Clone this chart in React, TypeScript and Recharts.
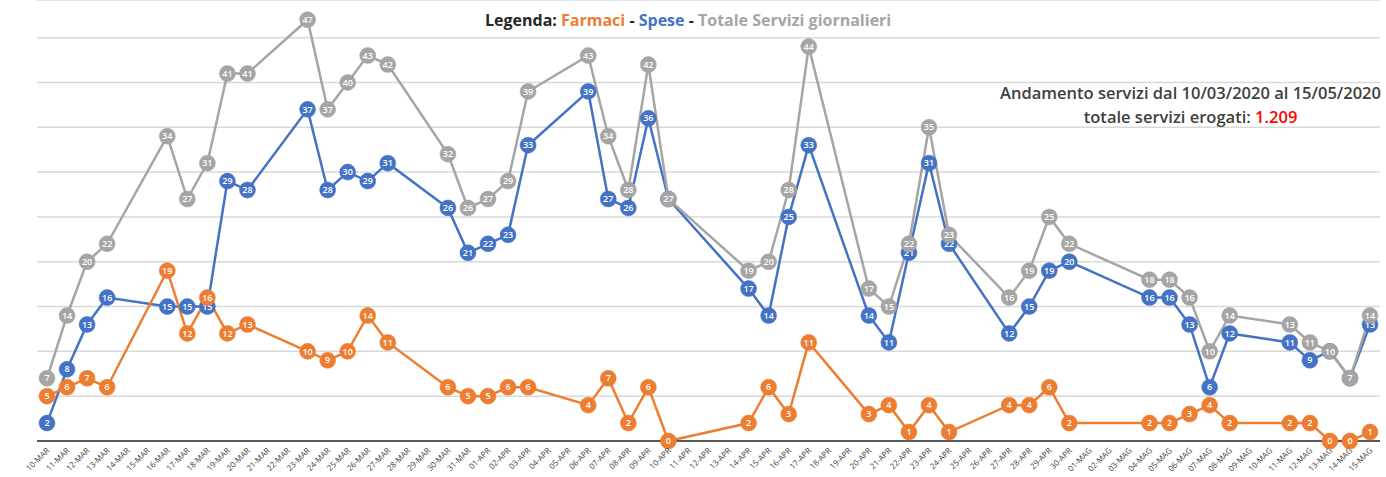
import React from 'react';
import { LineChart, Line, XAxis, YAxis, CartesianGrid } from 'recharts';

const categories = [
  '10-MAR','11-MAR','12-MAR','13-MAR','14-MAR','15-MAR','16-MAR','17-MAR','18-MAR','19-MAR','20-MAR',
  '21-MAR','22-MAR','23-MAR','24-MAR','25-MAR','26-MAR','27-MAR','28-MAR','29-MAR','30-MAR','31-MAR',
  '01-APR','02-APR','03-APR','04-APR','05-APR','06-APR','07-APR','08-APR','09-APR','10-APR',
  '11-APR','12-APR','13-APR','14-APR','15-APR','16-APR','17-APR','18-APR','19-APR','20-APR',
  '21-APR','22-APR','23-APR','24-APR','25-APR','26-APR','27-APR','28-APR','29-APR','30-APR',
  '01-MAG','02-MAG','03-MAG','04-MAG','05-MAG','06-MAG','07-MAG','08-MAG','09-MAG','10-MAG',
  '11-MAG','12-MAG','13-MAG','14-MAG','15-MAG',
];

const farmaci: (number | null)[] = [
  5, 6, 7, 6, null, null, 19, 12, 16, 12, 13,
  null, null, 10, 9, 10, 14, 11, null, null, 6, 5,
  5, 6, 6, null, null, 4, 7, 2, 6, 0,
  null, null, null, 2, 6, 3, 11, null, null, 3,
  4, 1, 4, 1, null, null, 4, 4, 6, 2,
  null, null, null, 2, 2, 3, 4, 2, null, null,
  2, 2, 0, 0, 1,
];

const spese: (number | null)[] = [
  2, 8, 13, 16, null, null, 15, 15, 15, 29, 28,
  null, null, 37, 28, 30, 29, 31, null, null, 26, 21,
  22, 23, 33, null, null, 39, 27, 26, 36, 27,
  null, null, null, 17, 14, 25, 33, null, null, 14,
  11, 21, 31, 22, null, null, 12, 15, 19, 20,
  null, null, null, 16, 16, 13, 6, 12, null, null,
  11, 9, 10, 7, 13,
];

const totale: (number | null)[] = [
  7, 14, 20, 22, null, null, 34, 27, 31, 41, 41,
  null, null, 47, 37, 40, 43, 42, null, null, 32, 26,
  27, 29, 39, null, null, 43, 34, 28, 42, 27,
  null, null, null, 19, 20, 28, 44, null, null, 17,
  15, 22, 35, 23, null, null, 16, 19, 25, 22,
  null, null, null, 18, 18, 16, 10, 14, null, null,
  13, 11, 10, 7, 14,
];

const yTicks = [0, 5, 10, 15, 20, 25, 30, 35, 40, 45];

const data = categories.map((c, i) => ({
  day: c,
  farmaci: farmaci[i],
  spese: spese[i],
  totale: totale[i],
}));

const FONT = '"Open Sans", "Noto Sans", sans-serif';

const makeDot = (color: string, key: string) => (props: any) => {
  const { cx, cy, index, payload } = props;
  const v = payload ? payload[key] : null;
  if (v === null || v === undefined || cx == null || cy == null || isNaN(cy)) {
    return <g key={`${key}-e-${index}`} />;
  }
  return (
    <g key={`${key}-d-${index}`}>
      <circle cx={cx} cy={cy} r={8} fill={color} stroke={color} strokeWidth={0.5} />
      <text
        x={cx}
        y={cy}
        dy="0.35em"
        textAnchor="middle"
        fill="#ffffff"
        fontSize={9}
        fontWeight={600}
        fontFamily={FONT}
      >
        {v}
      </text>
    </g>
  );
};

const XTick = (props: any) => {
  const { x, y, payload } = props;
  const tx = x + 3;
  const ty = y + 2;
  return (
    <text
      x={tx}
      y={ty}
      transform={`rotate(-45, ${tx}, ${ty})`}
      textAnchor="end"
      fontSize={8}
      fill="#404040"
      fontFamily={FONT}
    >
      {payload.value}
    </text>
  );
};

export default function App() {
  return (
    <div style={{ position: 'absolute', left: 0, top: 0, width: 1386, height: 477, background: '#fff' }}>
      <LineChart
        width={1386}
        height={477}
        data={data}
        margin={{ top: 0, right: 6, left: 37, bottom: 0 }}
      >
        <CartesianGrid vertical={false} stroke="#d9d9d9" strokeWidth={1.5} />
        <XAxis
          dataKey="day"
          interval={0}
          height={36}
          padding={{ left: 10, right: 10 }}
          tick={<XTick />}
          tickLine={false}
          axisLine={{ stroke: '#595959', strokeWidth: 2 }}
        />
        <YAxis hide domain={[0, 49.2]} ticks={yTicks} width={0} />
        <Line
          dataKey="spese"
          stroke="#4472C4"
          strokeWidth={2.5}
          connectNulls
          isAnimationActive={false}
          dot={makeDot('#4472C4', 'spese')}
          activeDot={false}
        />
        <Line
          dataKey="farmaci"
          stroke="#ED7D31"
          strokeWidth={2.5}
          connectNulls
          isAnimationActive={false}
          dot={makeDot('#ED7D31', 'farmaci')}
          activeDot={false}
        />
        <Line
          dataKey="totale"
          stroke="#A5A5A5"
          strokeWidth={2.5}
          connectNulls
          isAnimationActive={false}
          dot={makeDot('#A5A5A5', 'totale')}
          activeDot={false}
        />
      </LineChart>
      <div
        style={{
          position: 'absolute',
          left: 485,
          top: 9,
          fontFamily: FONT,
          fontSize: 16,
          fontWeight: 700,
          whiteSpace: 'nowrap',
          lineHeight: '22px',
        }}
      >
        <span style={{ color: '#262626' }}>Legenda: </span>
        <span style={{ color: '#ED7D31' }}>Farmaci</span>
        <span style={{ color: '#262626' }}> - </span>
        <span style={{ color: '#4472C4' }}>Spese</span>
        <span style={{ color: '#262626' }}> - </span>
        <span style={{ color: '#A5A5A5' }}>Totale Servizi giornalieri</span>
      </div>
      <div
        style={{
          position: 'absolute',
          right: 5,
          top: 81,
          fontFamily: FONT,
          fontSize: 16.5,
          fontWeight: 600,
          color: '#404040',
          whiteSpace: 'nowrap',
          textAlign: 'center',
          lineHeight: '24px',
        }}
      >
        <div>Andamento servizi dal 10/03/2020 al 15/05/2020</div>
        <div>
          totale servizi erogati: <span style={{ color: '#ff0000' }}>1.209</span>
        </div>
      </div>
    </div>
  );
}
